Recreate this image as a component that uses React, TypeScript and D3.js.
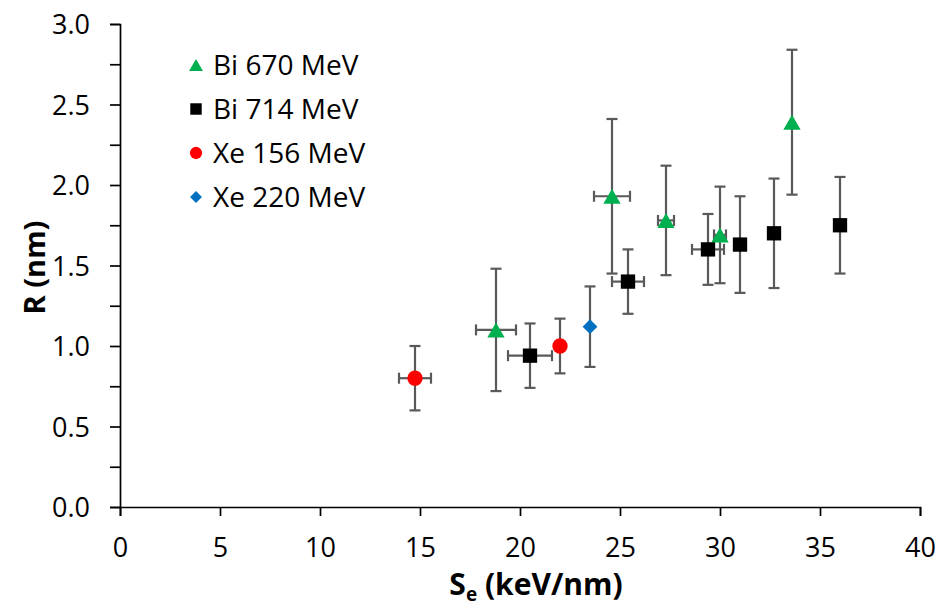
import React, { useRef, useEffect } from 'react';
import * as d3 from 'd3';

// values: [Se, R, Se error, R error up, R error down]
const bi670 = [
  [18.8, 1.1, 1.0, 0.38, 0.38],
  [24.6, 1.93, 0.9, 0.48, 0.48],
  [27.3, 1.78, 0.4, 0.34, 0.34],
  [30.0, 1.69, 0.3, 0.3, 0.3],
  [33.6, 2.39, 0, 0.45, 0.45],
];
const bi714 = [
  [20.5, 0.94, 1.1, 0.2, 0.2],
  [25.4, 1.4, 0.8, 0.2, 0.2],
  [29.4, 1.6, 0.8, 0.22, 0.22],
  [31.0, 1.63, 0, 0.3, 0.3],
  [32.7, 1.7, 0, 0.34, 0.34],
  [36.0, 1.75, 0, 0.3, 0.3],
];
const xe156 = [
  [14.75, 0.8, 0.8, 0.2, 0.2],
  [22.0, 1.0, 0, 0.17, 0.17],
];
const xe220 = [[23.5, 1.12, 0, 0.25, 0.25]];

const seriesNames = ['Bi 670 MeV', 'Bi 714 MeV', 'Xe 156 MeV', 'Xe 220 MeV'];
const seriesColors = ['#00b050', '#000000', '#ff0000', '#0070c0'];
const seriesShapes = ['triangle', 'square', 'circle', 'diamond'];
const seriesData = [bi670, bi714, xe156, xe220];

const xTicks = [0, 5, 10, 15, 20, 25, 30, 35, 40];
const yTicks = [0, 0.5, 1, 1.5, 2, 2.5, 3];
const yMinor = [0.25, 0.75, 1.25, 1.75, 2.25, 2.75];

const W = 940, H = 610;
const left = 120, right = 920, top = 24, bottom = 507;
const font = "'Open Sans', sans-serif";

function marker(shape) {
  // offsets so the shape sits on the point like the spreadsheet markers do
  if (shape === 'triangle') {
    const size = 130;
    const h = Math.sqrt(4 * size / Math.sqrt(3)) * Math.sqrt(3) / 2;
    return { d: d3.symbol(d3.symbolTriangle, size)(), dy: h / 6, rot: 0 };
  }
  if (shape === 'square') return { d: d3.symbol(d3.symbolSquare, 205)(), dy: 0, rot: 0 };
  if (shape === 'circle') return { d: d3.symbol(d3.symbolCircle, 185)(), dy: 0, rot: 0 };
  return { d: d3.symbol(d3.symbolSquare, 110)(), dy: 0, rot: 45 };
}

function Chart() {
  const svgRef = useRef(null);

  useEffect(() => {
    const svg = d3.select(svgRef.current);
    svg.selectAll('*').remove();

    const x = d3.scaleLinear().domain([0, 40]).range([left, right]);
    const y = d3.scaleLinear().domain([0, 3]).range([bottom, top]);

    // axes
    const xAxis = svg.append('g').attr('transform', `translate(0,${bottom})`)
      .call(d3.axisBottom(x).tickValues(xTicks).tickSize(9).tickFormat(d3.format('d')));
    const yAxis = svg.append('g').attr('transform', `translate(${left},0)`)
      .call(d3.axisLeft(y).tickValues(yTicks).tickSize(10).tickFormat(d3.format('.1f')));
    svg.append('g').attr('transform', `translate(${left},0)`)
      .call(d3.axisLeft(y).tickValues(yMinor).tickSize(10).tickFormat(() => ''))
      .select('.domain').remove();

    [xAxis, yAxis].forEach(a => {
      a.select('.domain').attr('stroke', '#000').attr('stroke-width', 1.7);
      a.selectAll('text').attr('font-family', font).attr('font-size', 27).attr('fill', '#000');
    });
    svg.selectAll('.tick line').attr('stroke', '#000').attr('stroke-width', 1.7);
    xAxis.selectAll('text').attr('dy', 0).attr('y', 50);
    yAxis.selectAll('text').attr('x', -30).attr('dy', '0.36em');

    // error bars
    const cap = 5.5;
    const eb = svg.append('g').attr('stroke', '#595959').attr('stroke-width', 2.2);
    seriesData.forEach(data => {
      data.forEach(([sx, r, ex, up, dn]) => {
        const cx = x(sx), cy = y(r);
        const y1 = y(r + up), y2 = y(r - dn);
        eb.append('line').attr('x1', cx).attr('x2', cx).attr('y1', y1).attr('y2', y2);
        eb.append('line').attr('x1', cx - cap).attr('x2', cx + cap).attr('y1', y1).attr('y2', y1);
        eb.append('line').attr('x1', cx - cap).attr('x2', cx + cap).attr('y1', y2).attr('y2', y2);
        if (ex > 0) {
          const x1 = x(sx - ex), x2 = x(sx + ex);
          eb.append('line').attr('x1', x1).attr('x2', x2).attr('y1', cy).attr('y2', cy);
          eb.append('line').attr('x1', x1).attr('x2', x1).attr('y1', cy - cap).attr('y2', cy + cap);
          eb.append('line').attr('x1', x2).attr('x2', x2).attr('y1', cy - cap).attr('y2', cy + cap);
        }
      });
    });

    // markers
    seriesData.forEach((data, i) => {
      const m = marker(seriesShapes[i]);
      svg.append('g').selectAll('path').data(data).join('path')
        .attr('d', m.d)
        .attr('fill', seriesColors[i])
        .attr('transform', d => `translate(${x(d[0])},${y(d[1]) + m.dy}) rotate(${m.rot})`);
    });

    // legend
    const lg = svg.append('g');
    seriesNames.forEach((name, i) => {
      const m = marker(seriesShapes[i]);
      const ly = 65 + i * 44;
      const sc = 0.8;
      lg.append('path').attr('d', m.d).attr('fill', seriesColors[i])
        .attr('transform', `translate(196,${ly + m.dy * sc}) rotate(${m.rot}) scale(${sc})`);
      lg.append('text').attr('x', 213).attr('y', ly).attr('dy', '0.36em')
        .attr('font-family', font).attr('font-size', 28).attr('fill', '#000').text(name);
    });

    // axis titles
    svg.append('text')
      .attr('transform', `translate(45,${(top + bottom) / 2 + 2}) rotate(-90)`)
      .attr('text-anchor', 'middle').attr('font-family', font).attr('font-weight', 700)
      .attr('font-size', 29).attr('fill', '#000').text('R (nm)');
    const xt = svg.append('text').attr('x', 536).attr('y', 595)
      .attr('text-anchor', 'middle').attr('font-family', font).attr('font-weight', 700)
      .attr('font-size', 30).attr('fill', '#000');
    xt.append('tspan').text('S');
    xt.append('tspan').attr('font-size', 19).attr('dy', 6).text('e');
    xt.append('tspan').attr('dy', -6).text(' (keV/nm)');
  }, []);

  return <svg ref={svgRef} width={W} height={H} style={{ position: 'absolute', left: 0, top: 0, background: '#fff' }} />;
}

export default function App() {
  return <Chart />;
}
